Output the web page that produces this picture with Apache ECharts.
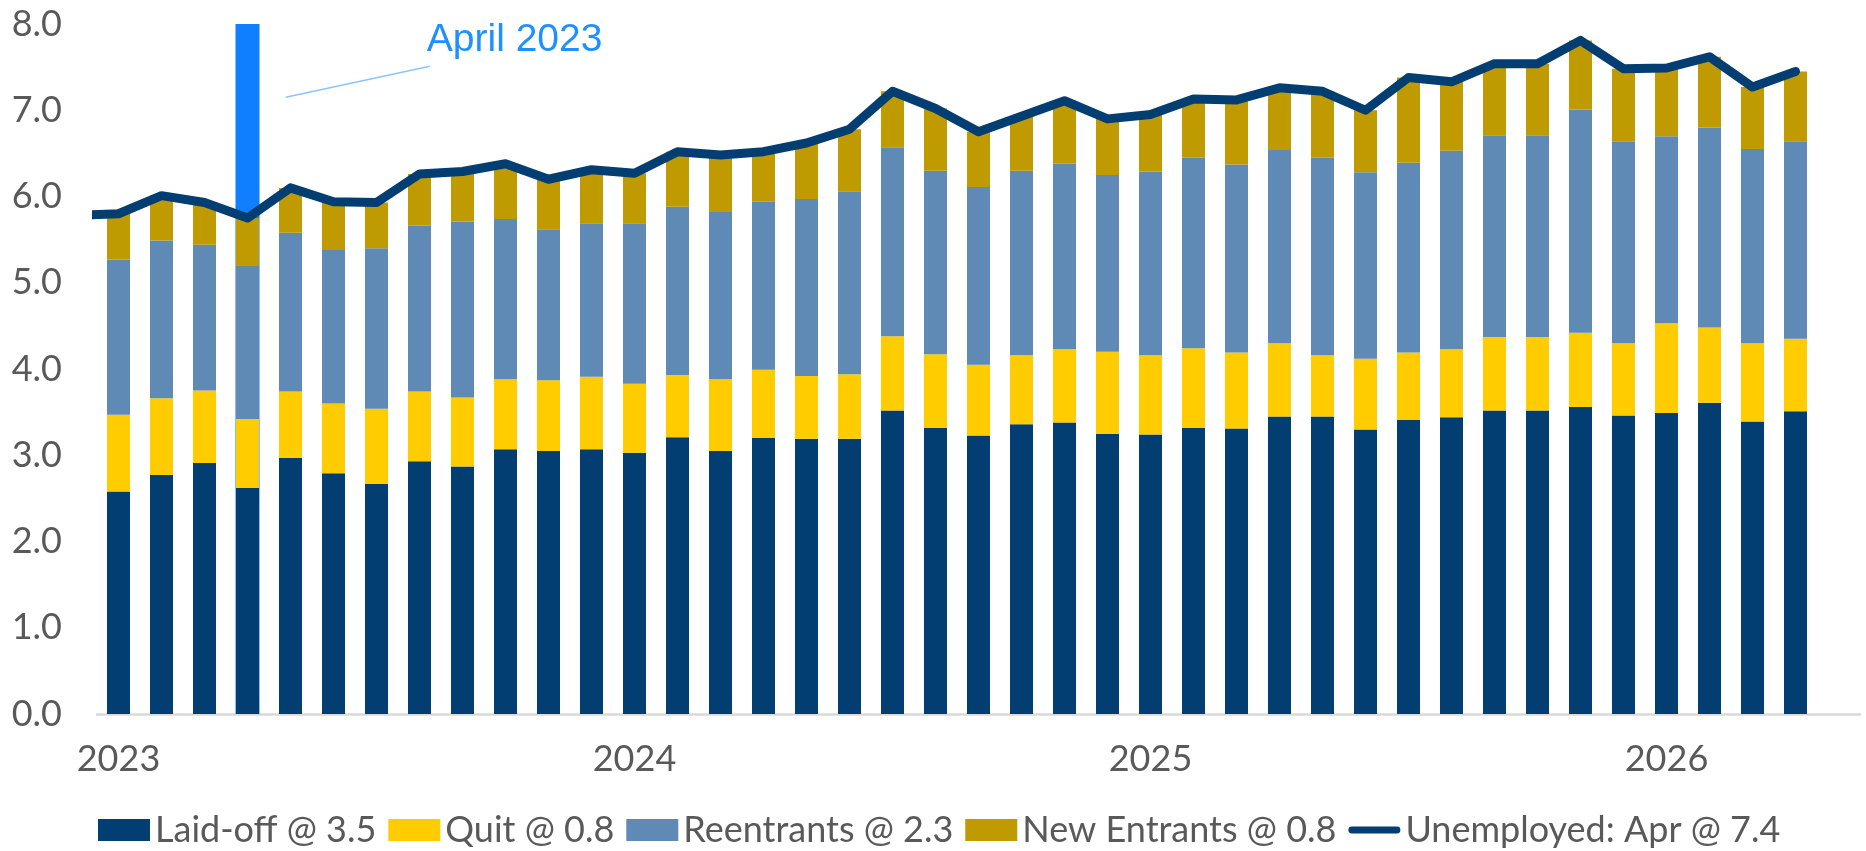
<!DOCTYPE html>
<html>
<head>
<meta charset="utf-8">
<script src="https://cdn.jsdelivr.net/npm/echarts@6/dist/echarts.min.js"></script>
<style>
html,body{margin:0;padding:0;background:#fff;}
#chart{width:1866px;height:851px;}
</style>
</head>
<body>
<div id="chart"></div>
<script>
// Month categories: Jan 2023 .. May 2026 (last category empty); line also has Dec 2022 (clipped at left edge)
const startYear = 2023;
const monthNames = ['Jan','Feb','Mar','Apr','May','Jun','Jul','Aug','Sep','Oct','Nov','Dec'];
const months = [];
for (let i = 0; i < 41; i++) months.push(monthNames[i % 12] + ' ' + (startYear + Math.floor(i / 12)));

const yearLabels = ['2023', '2024', '2025', '2026'];

const laidOff = [2.58,2.77,2.91,2.62,2.97,2.79,2.67,2.93,2.87,3.07,3.05,3.07,3.03,3.21,3.05,3.20,3.19,3.19,3.52,3.32,3.23,3.36,3.38,3.25,3.24,3.32,3.31,3.45,3.45,3.30,3.41,3.44,3.52,3.52,3.56,3.46,3.49,3.61,3.39,3.51];
const quit = [0.89,0.89,0.84,0.80,0.77,0.81,0.87,0.81,0.80,0.81,0.82,0.84,0.80,0.72,0.83,0.79,0.73,0.75,0.86,0.85,0.82,0.80,0.85,0.95,0.92,0.92,0.88,0.85,0.71,0.82,0.78,0.79,0.85,0.85,0.86,0.84,1.04,0.87,0.91,0.84];
const reentrants = [1.80,1.83,1.69,1.77,1.84,1.78,1.86,1.92,2.04,1.86,1.75,1.78,1.86,1.95,1.94,1.95,2.05,2.12,2.19,2.13,2.06,2.14,2.15,2.05,2.13,2.21,2.18,2.24,2.29,2.16,2.20,2.30,2.34,2.34,2.59,2.34,2.17,2.32,2.25,2.29];
const newEntrants = [0.53,0.52,0.49,0.56,0.52,0.56,0.53,0.60,0.58,0.64,0.58,0.62,0.58,0.64,0.66,0.58,0.65,0.72,0.65,0.72,0.64,0.63,0.73,0.65,0.66,0.68,0.75,0.72,0.77,0.72,0.99,0.80,0.83,0.83,0.80,0.84,0.79,0.82,0.72,0.81];
// Unemployed total, Dec 2022 .. Apr 2026
const unemployed = [5.78,5.80,6.01,5.93,5.75,6.10,5.94,5.93,6.26,6.29,6.38,6.20,6.31,6.27,6.52,6.48,6.52,6.62,6.78,7.22,7.02,6.75,6.93,7.11,6.90,6.95,7.13,7.12,7.26,7.22,7.00,7.38,7.33,7.54,7.54,7.81,7.48,7.49,7.62,7.27,7.45];
const highlightIndex = 3;   // April 2023
const highlightValue = 8.0;
const annotationText = 'April 2023';

const seriesNames = ['Laid-off @ 3.5', 'Quit @ 0.8', 'Reentrants @ 2.3', 'New Entrants @ 0.8', 'Unemployed: Apr @ 7.4'];
const colors = ['#033E72', '#FFCC00', '#5F8AB5', '#BF9A00', '#033E72'];

const FONT = 'Lato';
const chart = echarts.init(document.getElementById('chart'), null, {renderer: 'canvas'});

function barSeries(name, arr, color) {
  return {
    name: name, type: 'bar', stack: 'u', xAxisIndex: 0, yAxisIndex: 0,
    barWidth: 23, z: 2,
    itemStyle: {color: color},
    emphasis: {disabled: true},
    data: arr
  };
}

const option = {
  animation: false,
  backgroundColor: '#ffffff',
  grid: {left: 97, right: 6, top: 24, bottom: 137, containLabel: false},
  xAxis: [{
    type: 'category', data: months, boundaryGap: true,
    axisLine: {show: true, onZero: false, lineStyle: {color: '#D9D9D9', width: 2.5}},
    axisTick: {show: false},
    splitLine: {show: false},
    axisLabel: {
      show: true, margin: 27,
      interval: function (i) { return i % 12 === 0; },
      color: '#595959', fontSize: 36, fontFamily: FONT,
      formatter: function (v, i) { return yearLabels[Math.floor(i / 12)]; }
    }
  }, {
    type: 'value', min: -0.5, max: 40.5, show: false
  }],
  yAxis: {
    type: 'value', min: 0, max: 8, interval: 1,
    axisLine: {show: false}, axisTick: {show: false}, splitLine: {show: false},
    axisLabel: {color: '#595959', fontSize: 36, fontFamily: FONT, margin: 35,
      formatter: v => v.toFixed(1)}
  },
  legend: {
    left: 98, top: 812, padding: 0,
    itemWidth: 52, itemHeight: 22, itemGap: 12,
    textStyle: {color: '#595959', fontSize: 36, fontFamily: FONT},
    selectedMode: false,
    data: [
      {name: seriesNames[0], icon: 'rect'},
      {name: seriesNames[1], icon: 'rect'},
      {name: seriesNames[2], icon: 'rect'},
      {name: seriesNames[3], icon: 'rect'},
      {name: seriesNames[4], icon: 'path://M4,0 L56,0 A4,4 0 0 1 56,8 L4,8 A4,4 0 0 1 4,0 Z', itemStyle: {color: colors[4]}}
    ]
  },
  series: [
    {
      name: 'highlight', type: 'bar', xAxisIndex: 1, yAxisIndex: 0,
      barWidth: 24, z: 1, itemStyle: {color: '#0F7EFF'},
      emphasis: {disabled: true},
      data: [[highlightIndex, highlightValue]]
    },
    barSeries(seriesNames[0], laidOff, colors[0]),
    barSeries(seriesNames[1], quit, colors[1]),
    barSeries(seriesNames[2], reentrants, colors[2]),
    barSeries(seriesNames[3], newEntrants, colors[3]),
    {
      name: seriesNames[4], type: 'line', xAxisIndex: 1, yAxisIndex: 0, z: 5, clip: true,
      showSymbol: false, symbol: 'none',
      lineStyle: {color: colors[4], width: 9, cap: 'round', join: 'round'},
      itemStyle: {color: colors[4]},
      emphasis: {disabled: true},
      data: unemployed.map((v, i) => [i - 1, v])
    }
  ]
};
chart.setOption(option);

// Annotation placed in data space
const pText = chart.convertToPixel({xAxisIndex: 1, yAxisIndex: 0}, [7.17, 7.81]);
const pA = chart.convertToPixel({xAxisIndex: 1, yAxisIndex: 0}, [7.24, 7.51]);
const pB = chart.convertToPixel({xAxisIndex: 1, yAxisIndex: 0}, [3.89, 7.15]);
chart.setOption({
  graphic: [
    {type: 'line', shape: {x1: pA[0], y1: pA[1], x2: pB[0], y2: pB[1]},
     style: {stroke: '#8CC4FF', lineWidth: 1.5}, z: 10},
    {type: 'text', x: pText[0], y: pText[1],
     style: {text: annotationText, fill: '#1E90FF', font: '39px "Liberation Sans", Arial, sans-serif',
             textAlign: 'left', textVerticalAlign: 'middle'}, z: 10}
  ]
});
</script>
</body>
</html>
